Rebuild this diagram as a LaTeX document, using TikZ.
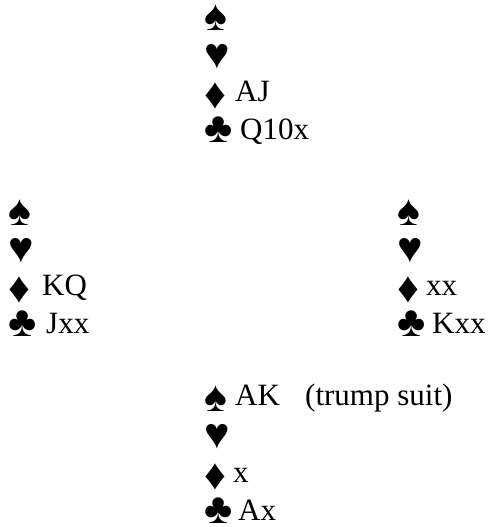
\documentclass[tikz,border=0pt]{standalone}
\usepackage{fontspec}
\setmainfont{Liberation Serif}
\begin{document}
\begin{tikzpicture}[x=1pt,y=-1pt,
  txt/.style={inner sep=0pt, anchor=base west, font=\fontsize{31}{36}\selectfont},
  suit/.style={inner sep=0pt, anchor=base west, font=\fontsize{43}{48}\selectfont,
    text height=18pt, text depth=2pt, yshift=-5pt},
  sp/.style={suit, yshift=-1pt},
  he/.style={suit},
  di/.style={suit, yshift=-2pt},
  cl/.style={suit, yshift=2pt}]
\useasboundingbox (0,0) rectangle (487,527);
% North
\node[sp] (ns) at (204,25) {♠};
\node[he] (nh) at (204,63) {♥};
\node[di] (nd) at (204,101) {♦};
\node[cl] (nc) at (204,139) {♣};
\node[txt] (ndt) at (235,101) {AJ};
\node[txt] (nct) at (240,139) {Q10x};
% West
\node[sp] (ws) at (8,219) {♠};
\node[he] (wh) at (8,257) {♥};
\node[di] (wd) at (8,295) {♦};
\node[cl] (wc) at (8,333) {♣};
\node[txt] (wdt) at (42,295) {KQ};
\node[txt] (wct) at (46,333) {Jxx};
% East
\node[sp] (es) at (397,219) {♠};
\node[he] (eh) at (397,257) {♥};
\node[di] (ed) at (397,295) {♦};
\node[cl] (ec) at (397,333) {♣};
\node[txt] (edt) at (426,295) {xx};
\node[txt] (ect) at (432,333) {Kxx};
% South
\node[sp] (ss) at (204,405) {♠};
\node[he] (sh) at (204,443) {♥};
\node[di] (sd) at (204,482) {♦};
\node[cl] (sc) at (204,520) {♣};
\node[txt] (sst) at (235,405) {AK};
\node[txt] (strump) at (305,405) {(trump suit)};
\node[txt] (sdt) at (233,482) {x};
\node[txt] (sct) at (238,520) {Ax};
\end{tikzpicture}
\end{document}
